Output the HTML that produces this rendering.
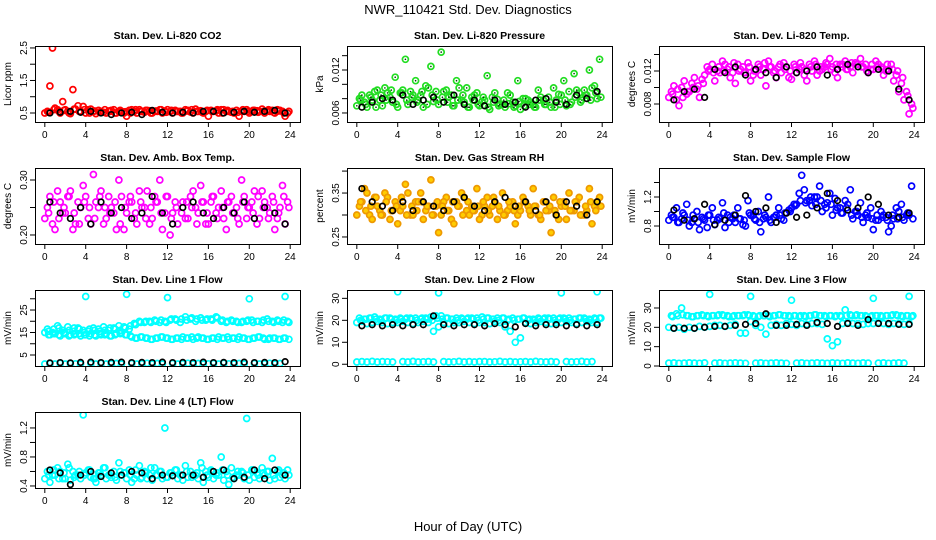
<!DOCTYPE html>
<html><head><meta charset="utf-8">
<style>
html,body{margin:0;padding:0;background:#fff;}
svg{display:block;font-family:"Liberation Sans",Arial,sans-serif;}
</style></head>
<body>
<svg id="chart" width="936" height="540" viewBox="0 0 936 540" xmlns="http://www.w3.org/2000/svg">
<rect x="0" y="0" width="936" height="540" fill="#fff"/>
<text x="468" y="14" text-anchor="middle" font-size="13">NWR_110421  Std. Dev. Diagnostics</text>
<text x="468" y="531" text-anchor="middle" font-size="13">Hour of Day (UTC)</text>
</svg>
<script>
const hoursA=[0.25,0.75,1.25,1.75,2.25,2.75,3.25,3.75,4.25,4.75,5.25,5.75,6.25,6.75,7.25,7.75,8.25,8.75,9.25,9.75,10.25,10.75,11.25,11.75,12.25,12.75,13.25,13.75,14.25,14.75,15.25,15.75,16.25,16.75,17.25,17.75,18.25,18.75,19.25,19.75,20.25,20.75,21.25,21.75,22.25,22.75,23.25,23.75];
const hoursB=[0,0.5,1,1.5,2,2.5,3,3.5,4,4.5,5,5.5,6,6.5,7,7.5,8,8.5,9,9.5,10,10.5,11,11.5,12,12.5,13,13.5,14,14.5,15,15.5,16,16.5,17,17.5,18,18.5,19,19.5,20,20.5,21,21.5,22,22.5,23,23.5];
const hoursC=[0.375,0.875,1.375,1.875,2.375,2.875,3.375,3.875,4.375,4.875,5.375,5.875,6.375,6.875,7.375,7.875,8.375,8.875,9.375,9.875,10.375,10.875,11.375,11.875,12.375,12.875,13.375,13.875,14.375,14.875,15.375,15.875,16.375,16.875,17.375,17.875,18.375,18.875,19.375,19.875,20.375,20.875,21.375,21.875,22.375,22.875,23.375,23.875];
const hoursK=[0.5,1.5,2.5,3.5,4.5,5.5,6.5,7.5,8.5,9.5,10.5,11.5,12.5,13.5,14.5,15.5,16.5,17.5,18.5,19.5,20.5,21.5,22.5,23.5];
const xTicks=[0,4,8,12,16,20,24];

const co2A=[0.55,2.5,0.6,0.85,0.55,1.22,0.72,0.7,0.6,0.55,0.58,0.52,0.56,0.6,0.55,0.5,0.58,0.55,0.6,0.52,0.57,0.55,0.6,0.56,0.54,0.58,0.55,0.6,0.53,0.62,0.57,0.55,0.58,0.56,0.6,0.55,0.52,0.58,0.55,0.6,0.55,0.57,0.62,0.56,0.58,0.6,0.55,0.5];
const co2B=[0.5,1.33,0.65,0.5,0.6,0.48,0.62,0.55,0.5,0.62,0.48,0.55,0.5,0.58,0.5,0.55,0.4,0.6,0.5,0.55,0.58,0.5,0.55,0.5,0.6,0.5,0.55,0.5,0.58,0.5,0.55,0.5,0.4,0.55,0.5,0.6,0.55,0.5,0.4,0.55,0.5,0.58,0.55,0.5,0.55,0.5,0.58,0.4];
const co2C=[0.52,0.6,0.55,0.58,0.5,0.62,0.55,0.6,0.5,0.56,0.52,0.6,0.55,0.5,0.58,0.54,0.5,0.6,0.55,0.58,0.5,0.56,0.6,0.52,0.58,0.55,0.5,0.56,0.6,0.55,0.52,0.58,0.55,0.6,0.5,0.58,0.55,0.52,0.6,0.55,0.58,0.52,0.55,0.6,0.52,0.56,0.5,0.55];
const co2K=[0.5,0.52,0.55,0.52,0.55,0.5,0.45,0.5,0.52,0.45,0.58,0.52,0.5,0.52,0.5,0.55,0.55,0.5,0.52,0.55,0.52,0.55,0.58,0.5];

const presA=[0.008,0.0075,0.0085,0.009,0.0078,0.0095,0.0082,0.011,0.0088,0.0135,0.009,0.0105,0.0085,0.0098,0.0125,0.009,0.0145,0.0092,0.0085,0.0105,0.0078,0.0095,0.0082,0.0088,0.0076,0.0112,0.0082,0.0079,0.0072,0.0088,0.0075,0.0105,0.008,0.0078,0.0072,0.0092,0.0078,0.0082,0.0095,0.0086,0.0105,0.009,0.0115,0.0088,0.0092,0.012,0.0098,0.0135];
const presB=[0.007,0.0085,0.0068,0.0078,0.0092,0.007,0.0088,0.0075,0.0068,0.0092,0.0072,0.0085,0.0078,0.0068,0.0095,0.0076,0.0072,0.009,0.0082,0.007,0.0095,0.0075,0.0068,0.0085,0.007,0.0078,0.0065,0.0088,0.0072,0.0068,0.0085,0.007,0.0065,0.008,0.0075,0.0068,0.0082,0.0072,0.0068,0.0078,0.0085,0.007,0.0075,0.0092,0.0078,0.0085,0.0095,0.008];
const presC=[0.0078,0.0072,0.0082,0.0068,0.0085,0.0078,0.0092,0.0072,0.0088,0.0078,0.0082,0.0075,0.009,0.0072,0.0085,0.0078,0.0082,0.0075,0.007,0.0078,0.0085,0.0068,0.0078,0.0072,0.0082,0.0068,0.0075,0.007,0.0078,0.0073,0.0068,0.0076,0.007,0.0072,0.0068,0.0078,0.0072,0.0075,0.0068,0.0072,0.0078,0.0072,0.0082,0.0075,0.0085,0.0078,0.0088,0.0082];
const presK=[0.0068,0.0075,0.008,0.0078,0.0085,0.0072,0.0078,0.0082,0.0075,0.0085,0.0072,0.0078,0.007,0.0078,0.0072,0.0075,0.0068,0.0078,0.008,0.0075,0.0072,0.0085,0.008,0.009];

const tempA=[0.0095,0.0085,0.01,0.0092,0.0105,0.0098,0.011,0.0125,0.0128,0.012,0.0132,0.0122,0.0118,0.0128,0.0125,0.013,0.0115,0.0128,0.0122,0.0132,0.0118,0.0125,0.013,0.0112,0.0128,0.0122,0.0115,0.0128,0.0132,0.012,0.0125,0.0135,0.0118,0.0128,0.0132,0.0125,0.013,0.0135,0.0128,0.0122,0.0132,0.0125,0.012,0.0128,0.0115,0.0105,0.0095,0.008];
const tempB=[0.0088,0.0102,0.0078,0.0108,0.0095,0.0112,0.0088,0.0115,0.0122,0.0108,0.0118,0.0128,0.0112,0.0105,0.0122,0.0118,0.0108,0.0122,0.0115,0.0102,0.0125,0.0112,0.0118,0.0125,0.011,0.0118,0.0125,0.0108,0.012,0.0115,0.0122,0.0128,0.0125,0.0112,0.0128,0.0122,0.0118,0.0128,0.0125,0.0118,0.0122,0.0128,0.0115,0.0122,0.0108,0.0095,0.0085,0.0068];
const tempC=[0.0092,0.0098,0.0088,0.0095,0.01,0.0102,0.0105,0.012,0.0118,0.0125,0.012,0.0125,0.013,0.012,0.0118,0.0125,0.012,0.0125,0.013,0.0125,0.012,0.0128,0.0122,0.012,0.0125,0.013,0.0122,0.0125,0.0128,0.0125,0.013,0.0122,0.0128,0.0125,0.0122,0.013,0.0128,0.0125,0.012,0.0128,0.0125,0.0122,0.0128,0.0122,0.012,0.0112,0.009,0.0075];
const tempK=[0.0085,0.0095,0.0098,0.0088,0.0122,0.0118,0.0125,0.0115,0.0122,0.0118,0.0112,0.0125,0.0118,0.012,0.0125,0.0115,0.0122,0.0128,0.0125,0.0118,0.0122,0.012,0.0098,0.0085];

const ambA=[0.25,0.22,0.28,0.24,0.27,0.21,0.26,0.29,0.23,0.31,0.25,0.22,0.27,0.24,0.3,0.21,0.26,0.23,0.28,0.25,0.22,0.27,0.3,0.24,0.2,0.26,0.33,0.23,0.27,0.25,0.29,0.22,0.26,0.24,0.28,0.21,0.27,0.25,0.3,0.23,0.26,0.22,0.28,0.25,0.27,0.23,0.29,0.26];
const ambB=[0.23,0.27,0.21,0.26,0.24,0.28,0.22,0.25,0.27,0.22,0.26,0.28,0.23,0.25,0.21,0.27,0.24,0.26,0.22,0.25,0.28,0.23,0.26,0.21,0.27,0.24,0.22,0.26,0.23,0.28,0.24,0.26,0.22,0.27,0.25,0.23,0.26,0.24,0.22,0.27,0.25,0.28,0.23,0.26,0.24,0.21,0.25,0.22];
const ambC=[0.24,0.26,0.23,0.25,0.27,0.24,0.22,0.26,0.25,0.23,0.27,0.25,0.24,0.26,0.22,0.25,0.27,0.24,0.26,0.23,0.25,0.26,0.24,0.27,0.23,0.25,0.24,0.26,0.25,0.22,0.26,0.24,0.27,0.23,0.25,0.26,0.24,0.23,0.26,0.25,0.24,0.27,0.25,0.23,0.26,0.24,0.27,0.25];
const ambK=[0.26,0.24,0.23,0.25,0.22,0.26,0.24,0.25,0.23,0.24,0.27,0.24,0.22,0.25,0.26,0.24,0.23,0.25,0.24,0.26,0.23,0.25,0.24,0.22];

const rhA=[0.32,0.36,0.3,0.34,0.31,0.35,0.29,0.33,0.31,0.37,0.3,0.33,0.35,0.31,0.38,0.32,0.3,0.34,0.29,0.33,0.35,0.31,0.32,0.36,0.3,0.34,0.32,0.29,0.35,0.31,0.33,0.3,0.34,0.32,0.36,0.3,0.33,0.31,0.34,0.29,0.33,0.35,0.31,0.34,0.3,0.36,0.32,0.34];
const rhB=[0.3,0.33,0.35,0.29,0.32,0.3,0.34,0.31,0.28,0.32,0.35,0.3,0.33,0.29,0.32,0.3,0.26,0.33,0.31,0.28,0.32,0.34,0.3,0.31,0.29,0.32,0.3,0.33,0.31,0.3,0.32,0.28,0.31,0.33,0.3,0.32,0.29,0.31,0.26,0.3,0.32,0.29,0.31,0.33,0.3,0.31,0.28,0.33];
const rhC=[0.33,0.31,0.32,0.34,0.3,0.33,0.31,0.32,0.34,0.3,0.32,0.31,0.33,0.32,0.3,0.33,0.32,0.31,0.33,0.32,0.3,0.33,0.31,0.32,0.33,0.31,0.34,0.32,0.3,0.33,0.31,0.32,0.33,0.31,0.32,0.3,0.33,0.32,0.31,0.33,0.32,0.31,0.33,0.3,0.32,0.33,0.31,0.32];
const rhK=[0.36,0.33,0.32,0.31,0.33,0.31,0.33,0.32,0.31,0.33,0.34,0.32,0.31,0.33,0.34,0.32,0.33,0.31,0.33,0.3,0.33,0.32,0.3,0.33];

const sfA=[0.95,1.05,0.9,1.1,0.85,1.0,0.92,0.78,1.05,0.88,1.12,0.95,0.9,1.05,0.82,1.15,0.95,1.0,0.9,1.2,0.92,1.05,0.88,1.02,1.1,1.25,1.3,1.15,1.2,1.35,1.1,1.25,1.18,1.05,1.15,1.3,1.0,1.12,0.95,1.05,0.88,1.0,0.92,0.8,1.05,1.1,0.95,1.35];
const sfB=[0.88,0.92,0.85,0.95,0.8,0.9,0.75,0.88,0.95,0.82,0.9,0.78,0.92,0.85,0.9,0.8,0.95,0.88,0.72,0.92,0.85,0.95,0.9,0.98,1.05,1.1,1.5,1.15,1.08,1.2,1.0,1.12,0.95,1.05,0.98,1.1,0.9,0.95,0.85,0.92,0.75,0.88,0.95,0.72,0.9,1.0,0.88,0.95];
const sfC=[0.92,0.85,0.98,0.88,0.95,0.85,0.9,0.95,0.88,0.92,0.98,0.85,0.95,0.9,0.88,0.98,0.9,0.85,0.95,0.88,0.92,0.95,0.98,1.0,1.08,1.15,1.12,1.2,1.1,1.15,1.05,1.1,1.02,0.98,1.05,0.95,1.0,0.92,0.98,0.9,0.95,0.92,0.88,0.95,0.9,0.92,0.98,0.9];
const sfK=[1.02,0.88,0.9,1.1,0.82,0.88,0.95,1.22,1.0,1.05,0.85,0.98,0.92,0.95,1.05,1.25,1.15,1.02,1.05,1.2,1.1,0.95,0.92,0.98];

const l1A=[16.5,15,18,16,17.5,15.5,17,16,15.5,17,16.5,17.5,16,17,18,17.5,16.5,19,20,19.5,20,20.5,19.5,20,20.5,21,19.5,22,21,20,21.5,20.5,21,22,20,19.5,20.5,20,19.5,20,20.5,20,19.5,21,20,20.5,19.5,20];
const l1B=[15,14,14.5,13.5,14.5,14,14.5,13.5,14,14.5,13.5,14,14.5,13.5,14.5,15,14,13,12.5,13,12.5,12,12.5,13,12.5,12,12.5,13,12.5,12,13,12.5,12,12.5,13,12.5,12,12.5,13,12.5,12,12.5,13,12,12.5,12.5,12,12.5];
const l1C=[1,1.2,1,1.3,1,1.2,1.1,1,31,1.2,1,1.3,1,1.1,1.2,1,32,1.2,1,1.1,1.3,1,1.2,1,30.5,1.2,1,1.1,1.3,1,1.2,1,1.1,1.2,1,1.3,1.1,1,1.2,1,30,1.2,1,1.1,1.3,1,1.2,31];
const l1D=[15.5,16.5,17,15,16,17,16.5,15,16.5,16,15.5,16,17,16.5,16,17,18,18.5,19.5,20,19.5,20,20.5,19.5,21,20.5,21,20.5,21.5,21,20.5,21,20.5,21.5,20.5,20,20,19.5,20,20.5,19.5,20,20.5,20,19.5,20,20.5,19.5];
const l1E=[14,14.5,14,14.5,13.5,14,14.5,14,13.5,14,14.5,14,13.5,14,14.5,14,13.5,12.5,13,12.5,12,12.5,13,12.5,12,12.5,12,12.5,13,12.5,12.5,12,12.5,12,12.5,13,12.5,12,12.5,12,12.5,13,12.5,12,12.5,12,12.5,12];
const l1K=[1.5,1.6,1.5,1.7,1.8,1.6,1.7,1.8,1.6,1.7,1.6,1.8,1.6,1.7,1.6,1.8,1.6,1.7,1.6,1.8,1.6,1.7,1.6,2];

const l2A=[21,20.5,21,21.5,20.5,21,21,20.5,21,20.5,21,21,20.5,21,21.5,22,22,21,20.5,21,21,20.5,21,21,21.5,21,20.5,21,21,20,21,20.5,21,20,20.5,21,20.5,21,21,20.5,21,21,20.5,21,21,20.5,21,21];
const l2B=[19,19.5,18.5,19,19.5,19,18.5,19,19,19.5,19,18.5,19,19.5,19,15,17,19,18.5,19,19,19.5,19,18.5,19,19,18.5,19.5,19,17,15,10,12,19,18.5,19,19.5,19,18.5,19,19,19.5,19,18.5,19,19.5,19,19];
const l2C=[1,1.2,1,1.3,1,1.2,1.1,1,33,1.2,1,1.3,1,1.1,1.2,1,32.5,1.2,1,1.1,1.3,1,1.2,1,1.2,1.2,1,1.1,1.3,1,1.2,1,1.1,1.2,1,1.3,1.1,1,1.2,1,32.5,1.2,1,1.1,1.3,1,1.2,33];
const l2D=[20,20.5,21,20.5,20,21,20.5,20,20.5,21,20.5,20,21,20.5,20,21,20.5,21,20.5,20,20.5,21,20.5,20,20.5,21,20.5,20,21,20.5,20,20.5,21,20.5,20,20.5,21,20.5,20,21,20.5,20,20.5,21,20.5,20,20.5,21];
const l2K=[17.5,18,17.5,18,17.5,18,18,22,18,17.5,18,18,17.5,18.5,18,17,18.5,17.5,18,18,17.5,18,17.5,18];

const l3A=[26,27,30,26,25.5,26,26.5,26,26,26,26.5,26,25.5,26,26,26.5,26,25.5,26,26,26,26.5,26,26,26,25.5,26,26,26.5,26,26,26,25.5,26,29,26.5,26,26,26,25.5,26,26,26,26,26.5,26,26,25.5];
const l3B=[20,19.5,20,19,20,19.5,20.5,20,20.5,21,21,20.5,21,21.5,17,17,23,21,20,16.5,21,21.5,21,22,21.5,21,22,21.5,22,22,21.5,14,10.5,12.5,22,22.5,22,22,21.5,22,22,22.5,22,21.5,22,22,21.5,22];
const l3C=[1.5,1.6,1.4,1.5,1.6,1.5,1.4,1.6,37,1.5,1.6,1.4,1.5,1.6,1.5,1.4,36,1.5,1.6,1.4,1.5,1.6,1.5,1.4,34,1.5,1.6,1.4,1.5,1.6,1.5,1.4,1.6,1.5,1.4,1.6,1.5,1.4,1.6,1.5,35,1.5,1.6,1.4,1.5,1.6,1.5,36];
const l3D=[25.5,26,26.5,26,25.5,26,26,25.5,26,26.5,26,25.5,26,26,26.5,26,25.5,26,26,25.5,26,26.5,26,25.5,26,26,25.5,26,26.5,26,25.5,26,26,25.5,26,26,26.5,26,25.5,26,26,25.5,26,26.5,26,25.5,26,26];
const l3K=[19.5,19.5,19.5,20,20.5,20.5,21,21.5,22,27,21,21,21.5,21,22.5,22,20.5,22,21,24,22,22,21.5,21.5];

const l4A=[0.6,0.55,0.65,0.5,0.7,0.6,0.55,1.38,0.62,0.5,0.58,0.65,0.55,0.6,0.72,0.58,0.62,0.5,0.68,0.6,0.55,0.65,0.6,1.2,0.58,0.62,0.55,0.68,0.6,0.55,0.72,0.6,0.62,0.55,0.8,0.6,0.65,0.55,0.6,1.33,0.62,0.58,0.65,0.6,0.78,0.6,0.55,0.62];
const l4B=[0.5,0.45,0.55,0.6,0.5,0.48,0.55,0.5,0.58,0.52,0.45,0.55,0.5,0.52,0.48,0.55,0.5,0.45,0.55,0.52,0.5,0.48,0.55,0.5,0.52,0.55,0.5,0.48,0.52,0.55,0.5,0.45,0.52,0.5,0.55,0.48,0.42,0.5,0.55,0.5,0.48,0.52,0.5,0.55,0.48,0.5,0.52,0.5];
const l4C=[0.55,0.62,0.5,0.58,0.65,0.52,0.6,0.55,0.62,0.5,0.58,0.65,0.55,0.52,0.6,0.58,0.55,0.62,0.5,0.58,0.65,0.55,0.6,0.52,0.58,0.62,0.55,0.6,0.52,0.58,0.65,0.55,0.6,0.58,0.62,0.55,0.52,0.6,0.58,0.55,0.62,0.55,0.58,0.6,0.55,0.62,0.58,0.55];
const l4K=[0.62,0.58,0.42,0.55,0.6,0.53,0.58,0.55,0.6,0.58,0.5,0.55,0.54,0.55,0.55,0.52,0.6,0.62,0.5,0.52,0.62,0.5,0.62,0.55];

const NS="http://www.w3.org/2000/svg";
const svg=document.getElementById('chart');
function mk(tag,attrs,parent){const e=document.createElementNS(NS,tag);for(const k in attrs)e.setAttribute(k,attrs[k]);(parent||svg).appendChild(e);return e;}

const panels=[
 {name:'co2',title:'Stan. Dev. Li-820 CO2',ylab:'Licor ppm',box:[35,46,300,122],dom:[0.223,2.56],ticks:[0.5,1,1.5,2,2.5],labels:['0.5','','1.5','','2.5'],col:'#ff0000',fill:'none',series:[[hoursA,co2A],[hoursB,co2B],[hoursC,co2C]],k:co2K},
 {name:'pressure',title:'Stan. Dev. Li-820 Pressure',ylab:'kPa',box:[347,46,612,122],dom:[0.00474,0.01535],ticks:[0.006,0.008,0.010,0.012,0.014],labels:['0.006','','','0.012',''],col:'#22dd22',fill:'none',dot:true,series:[[hoursA,presA],[hoursB,presB],[hoursC,presC]],k:presK},
 {name:'temp',title:'Stan. Dev. Li-820 Temp.',ylab:'degrees C',box:[659,46,924,122],dom:[0.00582,0.01503],ticks:[0.008,0.010,0.012,0.014],labels:['0.008','','0.012',''],col:'#ff00ff',fill:'none',series:[[hoursA,tempA],[hoursB,tempB],[hoursC,tempC]],k:tempK},
 {name:'amb-box-temp',title:'Stan. Dev. Amb. Box Temp.',ylab:'degrees C',box:[35,168,300,244],dom:[0.1836,0.3218],ticks:[0.20,0.25,0.30],labels:['0.20','','0.30'],col:'#ff00ff',fill:'none',series:[[hoursA,ambA],[hoursB,ambB],[hoursC,ambC]],k:ambK},
 {name:'gas-rh',title:'Stan. Dev. Gas Stream RH',ylab:'percent',box:[347,168,612,244],dom:[0.234,0.407],ticks:[0.25,0.30,0.35,0.40],labels:['0.25','','0.35',''],col:'#ee9900',fill:'#ffcc00',series:[[hoursA,rhA],[hoursB,rhB],[hoursC,rhC]],k:rhK},
 {name:'sample-flow',title:'Stan. Dev. Sample Flow',ylab:'mV/min',box:[659,168,924,244],dom:[0.552,1.6],ticks:[0.8,1.0,1.2,1.4],labels:['0.8','','1.2',''],col:'#0000ff',fill:'none',series:[[hoursA,sfA],[hoursB,sfB],[hoursC,sfC]],k:sfK},
 {name:'line1-flow',title:'Stan. Dev. Line 1 Flow',ylab:'mV/min',box:[35,290,300,366],dom:[0.11,33.9],ticks:[5,10,15,20,25,30],labels:['5','','15','','25',''],col:'#00ffff',fill:'none',series:[[hoursA,l1A],[hoursB,l1B],[hoursB,l1C],[hoursC,l1D],[hoursC,l1E]],k:l1K},
 {name:'line2-flow',title:'Stan. Dev. Line 2 Flow',ylab:'mV/min',box:[347,290,612,366],dom:[-0.8,33.8],ticks:[0,10,20,30],labels:['0','10','20','30'],col:'#00ffff',fill:'none',series:[[hoursA,l2A],[hoursB,l2B],[hoursB,l2C],[hoursC,l2D]],k:l2K},
 {name:'line3-flow',title:'Stan. Dev. Line 3 Flow',ylab:'mV/min',box:[659,290,924,366],dom:[0,39.3],ticks:[0,10,20,30],labels:['0','10','20','30'],col:'#00ffff',fill:'none',series:[[hoursA,l3A],[hoursB,l3B],[hoursB,l3C],[hoursC,l3D]],k:l3K},
 {name:'line4-flow',title:'Stan. Dev. Line 4 (LT) Flow',ylab:'mV/min',box:[35,412,300,488],dom:[0.372,1.42],ticks:[0.4,0.6,0.8,1.0,1.2],labels:['0.4','','0.8','','1.2'],col:'#00ffff',fill:'none',series:[[hoursA,l4A],[hoursB,l4B],[hoursC,l4C]],k:l4K}
];

panels.forEach(p=>{
 const [x0,y0,x1,y1]=p.box;
 const w=x1-x0, h=y1-y0;
 const xs=v=>x0+(v+0.96)/25.92*w;
 const ys=v=>y1-(v-p.dom[0])/(p.dom[1]-p.dom[0])*h;
 const g=mk('g',{});
 
 
 const t=mk('text',{x:(x0+x1)/2,y:y0-7,'text-anchor':'middle','font-size':'10.5','font-weight':'bold'},g);
 
 
 t.textContent=p.title;
 const clip=mk('clipPath',{id:'c-'+p.name},g);
 mk('rect',{x:x0,y:y0,width:w,height:h},clip);
 const pts=mk('g',{'clip-path':'url(#c-'+p.name+')'},g);
 
 
 p.series.forEach(s=>{
  s[0].forEach((hr,i)=>{
   const cx=xs(hr).toFixed(1), cy=ys(s[1][i]).toFixed(1);
   const c=mk('circle',{cx:cx,cy:cy,r:3,fill:p.fill,stroke:p.col,'stroke-width':1.7},pts);
   
   
   if(p.dot){
    const d=mk('circle',{cx:cx,cy:cy,r:0.8,fill:'#003300'},pts);
    
    
   }
  });
 });
 hoursK.forEach((hr,i)=>{
  const c=mk('circle',{cx:xs(hr).toFixed(1),cy:ys(p.k[i]).toFixed(1),r:2.8,fill:'none',stroke:'#000','stroke-width':1.7},pts);
  
  
 });
 const b=mk('rect',{x:x0+0.5,y:y0+0.5,width:w,height:h,fill:'none',stroke:'#000','stroke-width':1},g);
 
 
 xTicks.forEach(v=>{
  const X=xs(v);
  mk('line',{x1:X,y1:y1,x2:X,y2:y1+5,stroke:'#000'},g);
  const tl=mk('text',{x:X,y:y1+16,'text-anchor':'middle','font-size':'10'},g);
  
  
  tl.textContent=v;
 });
 p.ticks.forEach((v,i)=>{
  const Y=ys(v);
  mk('line',{x1:x0,y1:Y,x2:x0-5,y2:Y,stroke:'#000'},g);
  if(p.labels[i]){
   const tl=mk('text',{x:x0-8,y:Y,'text-anchor':'middle','font-size':'10',transform:'rotate(-90 '+(x0-8)+' '+Y+')'},g);
   
   
   tl.textContent=p.labels[i];
  }
 });
 const yl=mk('text',{x:x0-24,y:(y0+y1)/2,'text-anchor':'middle','font-size':'10',transform:'rotate(-90 '+(x0-24)+' '+((y0+y1)/2)+')'},g);
 
 
 yl.textContent=p.ylab;
});
</script>
</body></html>
